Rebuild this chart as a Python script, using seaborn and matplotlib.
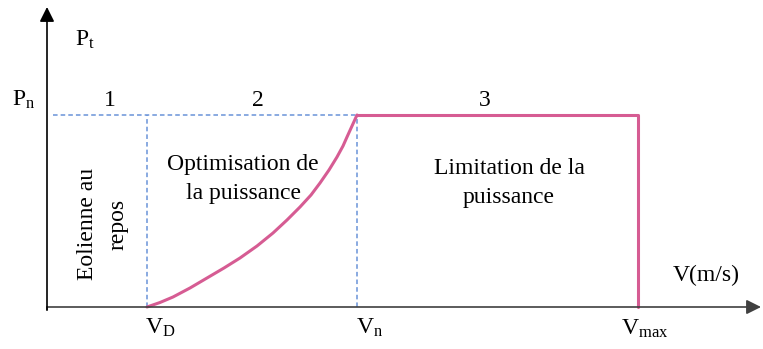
import numpy as np
import pandas as pd
import seaborn as sns
import matplotlib.pyplot as plt

# wind speed (arbitrary units, origin at the axes crossing)
v_d = 100
v_n = 310
v_max = 591
p_n = 192

# optimisation zone
curve_v = [100, 113, 126, 143, 160, 177, 193, 210, 226, 240, 253, 264, 273, 282,
           290, 296, 300, 305, 310]
curve_p = [0, 4.5, 10, 19, 29, 39, 49, 61, 74, 87, 100, 112, 124, 137,
           150, 161, 170, 181, 192]

# limitation zone
limit_v = [v_n, v_max, v_max]
limit_p = [p_n, p_n, 0]

zone_labels = ['1', '2', '3']
zone_centers = [63, 211, 438]

sns.set_style('white')
plt.rcParams['font.family'] = ['Liberation Serif', 'DejaVu Serif']
plt.rcParams['mathtext.fontset'] = 'custom'
plt.rcParams['mathtext.rm'] = 'Liberation Serif'
plt.rcParams['mathtext.it'] = 'Liberation Serif'
plt.rcParams['text.color'] = 'black'

fig = plt.figure(figsize=(7.63, 3.49), dpi=100)
ax = fig.add_axes([0, 0, 1, 1])
ax.set_xlim(-47, 716)
ax.set_ylim(-42, 307)
ax.axis('off')

pink = '#D65C93'
blue = '#6A93D8'

# dashed guides
ax.plot([6, v_n], [p_n, p_n], ls=(0, (3, 2)), color=blue, lw=1.1)
ax.plot([v_d, v_d], [0, p_n], ls=(0, (3, 2)), color=blue, lw=1.1)
ax.plot([v_n, v_n], [0, p_n], ls=(0, (3, 2)), color=blue, lw=1.1)

curve = pd.DataFrame({'v': curve_v, 'p': curve_p})
limit = pd.DataFrame({'v': limit_v, 'p': limit_p})
sns.lineplot(data=curve, x='v', y='p', ax=ax, color=pink, lw=2.2, sort=False,
             estimator=None)
sns.lineplot(data=limit, x='v', y='p', ax=ax, color=pink, lw=2.2, sort=False,
             estimator=None)

# axes with arrows
axc = '#404040'
ax.annotate('', xy=(714, 0), xytext=(0, 0),
            arrowprops=dict(arrowstyle='-|>', color=axc, lw=1.2, mutation_scale=22,
                            shrinkA=0, shrinkB=0), annotation_clip=False)
ax.annotate('', xy=(0, 300), xytext=(0, -3),
            arrowprops=dict(arrowstyle='-|>', color='black', lw=1.2, mutation_scale=22,
                            shrinkA=0, shrinkB=0), annotation_clip=False)
ax.plot([0, 0], [-3, 0], color=axc, lw=1.2)

fs = 17
for lab, xc in zip(zone_labels, zone_centers):
    ax.text(xc, p_n + 14, lab, ha='center', va='center', fontsize=fs)

ax.text(28, 267, r'$\mathrm{P_t}$', ha='left', va='center', fontsize=fs)
ax.text(-35, 207, r'$\mathrm{P_n}$', ha='left', va='center', fontsize=fs)
ax.text(56, 83, 'Eolienne au\nrepos', rotation=90, ha='center', va='center',
        fontsize=fs, linespacing=1.6)
ax.text(196, 128, 'Optimisation de\nla puissance', ha='center', va='center',
        fontsize=fs, linespacing=1.55)
ax.text(462, 124, 'Limitation de la\npuissance', ha='center', va='center',
        fontsize=fs, linespacing=1.55)
ax.text(659, 32, 'V(m/s)', ha='center', va='center', fontsize=fs)
ax.text(v_d + 13, -21, r'$\mathrm{V_D}$', ha='center', va='center', fontsize=fs)
ax.text(v_n + 13, -21, r'$\mathrm{V_n}$', ha='center', va='center', fontsize=fs)
ax.text(v_max + 7, -22, r'$\mathrm{V_{max}}$', ha='center', va='center', fontsize=fs)

fig.savefig('out.png', dpi=100)
